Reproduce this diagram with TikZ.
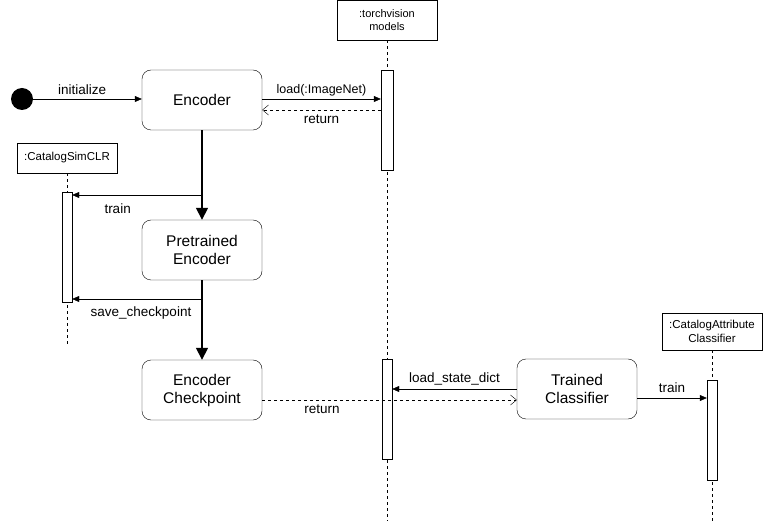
\documentclass[tikz,border=0pt]{standalone}
\usepackage{fontspec}
\setmainfont{Liberation Sans}
\usetikzlibrary{arrows.meta}
\begin{document}
\begin{tikzpicture}[x=1pt,y=-1pt,
  state/.style={draw,rounded corners=9pt,minimum width=120pt,minimum height=60pt,align=center,font=\fontsize{15.5}{18}\selectfont,inner sep=0pt},
  obj/.style={draw,minimum width=100pt,align=center,font=\fontsize{11}{13.5}\selectfont,inner sep=0pt},
  bigobj/.style={obj,font=\fontsize{11.5}{14}\selectfont},
  bar/.style={draw,fill=white,minimum width=10pt,inner sep=0pt},
  life/.style={dash pattern=on 3pt off 3pt},
  msg/.style={-{Triangle[length=7pt,width=6pt]}},
  ret/.style={dashed,-{Straight Barb[length=6pt,width=10pt]}},
  flow/.style={line width=1.6pt,-{Triangle[length=12pt,width=12pt]}},
  lbl/.style={font=\fontsize{13.5}{16}\selectfont,inner sep=0pt},
  slbl/.style={font=\fontsize{12.5}{14}\selectfont,inner sep=0pt}
]
\useasboundingbox (0,0) rectangle (763,521);
% objects
\node[obj,minimum height=40pt] (tv) at (387,20) {:torchvision\\models};
\node[bigobj,minimum height=30pt] (sim) at (67,158) {:CatalogSimCLR};
\node[bigobj,minimum height=37pt] (cac) at (712,331.5) {:CatalogAttribute\\Classifier};
\coordinate (tvend) at (387,521);
\coordinate (simend) at (67,345);
\coordinate (cacend) at (712,521);
\draw[life] (tv.south) -- (tvend);
\draw[life] (sim.south) -- (simend);
\draw[life] (cac.south) -- (cacend);
% bars
\node[bar,minimum height=100pt,minimum width=12pt] (tvb1) at (387,120) {};
\node[bar,minimum height=100pt] (tvb2) at (387,409) {};
\node[bar,minimum height=110pt] (simb) at (67,247) {};
\node[bar,minimum height=100pt] (cacb) at (712,430) {};
% states
\node[fill=black,circle,minimum size=22pt,inner sep=0pt] (init) at (22,99) {};
\node[state] (enc) at (202,100) {Encoder};
\node[state] (pre) at (202,250) {Pretrained\\Encoder};
\node[state] (chk) at (202,390) {Encoder\\Checkpoint};
\node[state] (cls) at (577,389) {Trained\\Classifier};
% messages
\draw[msg] (init.east) -- (enc.west |- init.east) node[lbl,pos=0.45,above=4pt] {initialize};
\draw[msg] (enc.east |- 0,99) -- (tvb1.west |- 0,99) node[slbl,midway,above=3pt] {load(:ImageNet)};
\draw[ret] (tvb1.west |- 0,110) -- (enc.east |- 0,110) node[lbl,midway,below=5pt] {return};
\draw[flow] (enc.south) -- (pre.north);
\draw[flow] (pre.south) -- (chk.north);
\coordinate (t1) at (202,195);
\coordinate (t2) at (202,299);
\draw[msg] (t1) -- (simb.east |- t1) node[lbl,pos=0.65,below=9pt] {train};
\draw[msg] (t2) -- (simb.east |- t2) node[lbl,pos=0.47,below=8pt] {save\_checkpoint};
\draw[msg] (cls.west |- 0,389) -- (tvb2.east |- 0,389) node[lbl,midway,above=4pt] {load\_state\_dict};
\draw[ret] (chk.east |- 0,400) -- (cls.west |- 0,400) node[lbl,pos=0.235,below=5pt] {return};
\draw[msg] (cls.east |- 0,398) -- (cacb.west |- 0,398) node[lbl,midway,above=5pt] {train};
\end{tikzpicture}
\end{document}
